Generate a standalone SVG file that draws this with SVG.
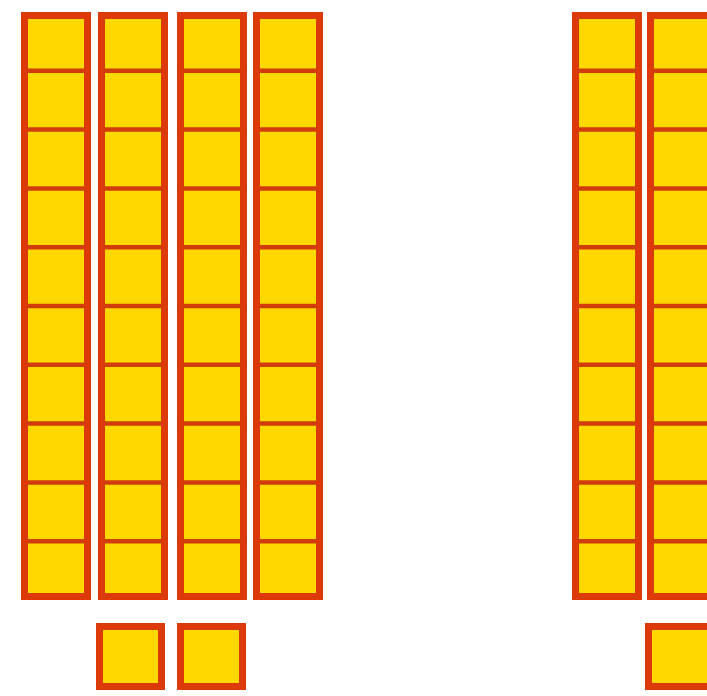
<svg xmlns="http://www.w3.org/2000/svg" width="707" height="696" viewBox="0 0 707 696">
<style>
.b{fill:#ffd800;stroke:#dc3a08;stroke-width:7}
.d{stroke:#d23c0a;stroke-width:4.5}
</style>
<defs>
<g id="rod">
<rect class="b" x="3.5" y="3.5" width="63" height="581"/>
<g class="d">
<line x1="6" y1="58.8" x2="64" y2="58.8"/>
<line x1="6" y1="117.6" x2="64" y2="117.6"/>
<line x1="6" y1="176.4" x2="64" y2="176.4"/>
<line x1="6" y1="235.2" x2="64" y2="235.2"/>
<line x1="6" y1="294" x2="64" y2="294"/>
<line x1="6" y1="352.8" x2="64" y2="352.8"/>
<line x1="6" y1="411.6" x2="64" y2="411.6"/>
<line x1="6" y1="470.4" x2="64" y2="470.4"/>
<line x1="6" y1="529.2" x2="64" y2="529.2"/>
</g>
</g>
<rect id="unit" class="b" x="3.5" y="3.5" width="62" height="60"/>
</defs>
<rect width="707" height="696" fill="#ffffff"/>
<g id="rod1"><use href="#rod" x="21" y="12"/></g>
<g id="rod2"><use href="#rod" x="98" y="12"/></g>
<g id="rod3"><use href="#rod" x="177" y="12"/></g>
<g id="rod4"><use href="#rod" x="253" y="12"/></g>
<g id="unit1"><use href="#unit" x="96" y="623"/></g>
<g id="unit2"><use href="#unit" x="177" y="623"/></g>
<g id="rod5"><use href="#rod" x="572" y="12"/></g>
<g id="rod6"><use href="#rod" x="647" y="12"/></g>
<g id="unit3"><use href="#unit" x="645" y="623"/></g>
<g id="connectors"></g>
</svg>
